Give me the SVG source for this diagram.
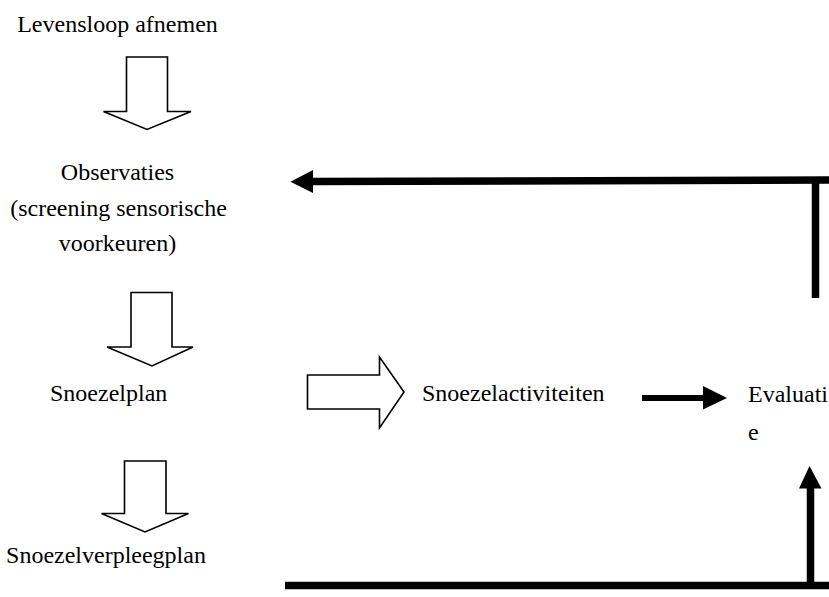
<svg xmlns="http://www.w3.org/2000/svg" width="829" height="597" viewBox="0 0 829 597">
<style>
text{font-family:"Liberation Serif","Times New Roman",serif;font-size:24px;fill:#000}
.hollow{fill:#fff;stroke:#000;stroke-width:1.6;stroke-linejoin:miter}
.thick{stroke:#000;stroke-width:7.5;fill:none}
.head{fill:#000;stroke:none}
</style>
<rect width="829" height="597" fill="#fff"/>
<g id="levensloop"><text x="117.5" y="31.5" text-anchor="middle">Levensloop afnemen</text></g>
<g id="observaties">
<text x="117.5" y="180" text-anchor="middle">Observaties</text>
<text x="118.5" y="216" text-anchor="middle">(screening sensorische</text>
<text x="117.5" y="251" text-anchor="middle">voorkeuren)</text>
</g>
<g id="snoezelplan"><text x="50" y="401">Snoezelplan</text></g>
<g id="snoezelactiviteiten"><text x="422" y="401">Snoezelactiviteiten</text></g>
<g id="evaluatie"><text x="748" y="402">Evaluati</text><text x="748" y="440">e</text></g>
<g id="snoezelverpleegplan"><text x="106" y="563" text-anchor="middle">Snoezelverpleegplan</text></g>
<g id="connectors">
<polygon class="hollow" points="126.5,57 167.5,57 167.5,111.5 191,111.5 147,129.5 103.5,111.5 126.5,111.5"/>
<polygon class="hollow" points="131,292.5 172,292.5 172,347 193,347 152,366 107,347 131,347"/>
<polygon class="hollow" points="124.5,461 166,461 166,513.5 188.5,513.5 145,532 101.5,513.5 124.5,513.5"/>
<polygon class="hollow" points="307.5,375 379.5,375 379.5,357 404,392 379.5,428 379.5,409 307.5,409"/>
<line class="thick" x1="642" y1="398" x2="705" y2="398" style="stroke-width:6"/>
<polygon class="head" points="703,386 727,398 703,409.5"/>
<line class="thick" x1="815.5" y1="298" x2="815.5" y2="177.5"/>
<line class="thick" x1="829" y1="180" x2="311" y2="181.5"/>
<polygon class="head" points="313,170 290.5,181.7 313,193"/>
<line class="thick" x1="285" y1="585.5" x2="829" y2="585.5"/>
<line class="thick" x1="810.5" y1="589" x2="810.5" y2="486"/>
<polygon class="head" points="799,488.5 809.5,466 821.5,488.5"/>
</g>
</svg>
